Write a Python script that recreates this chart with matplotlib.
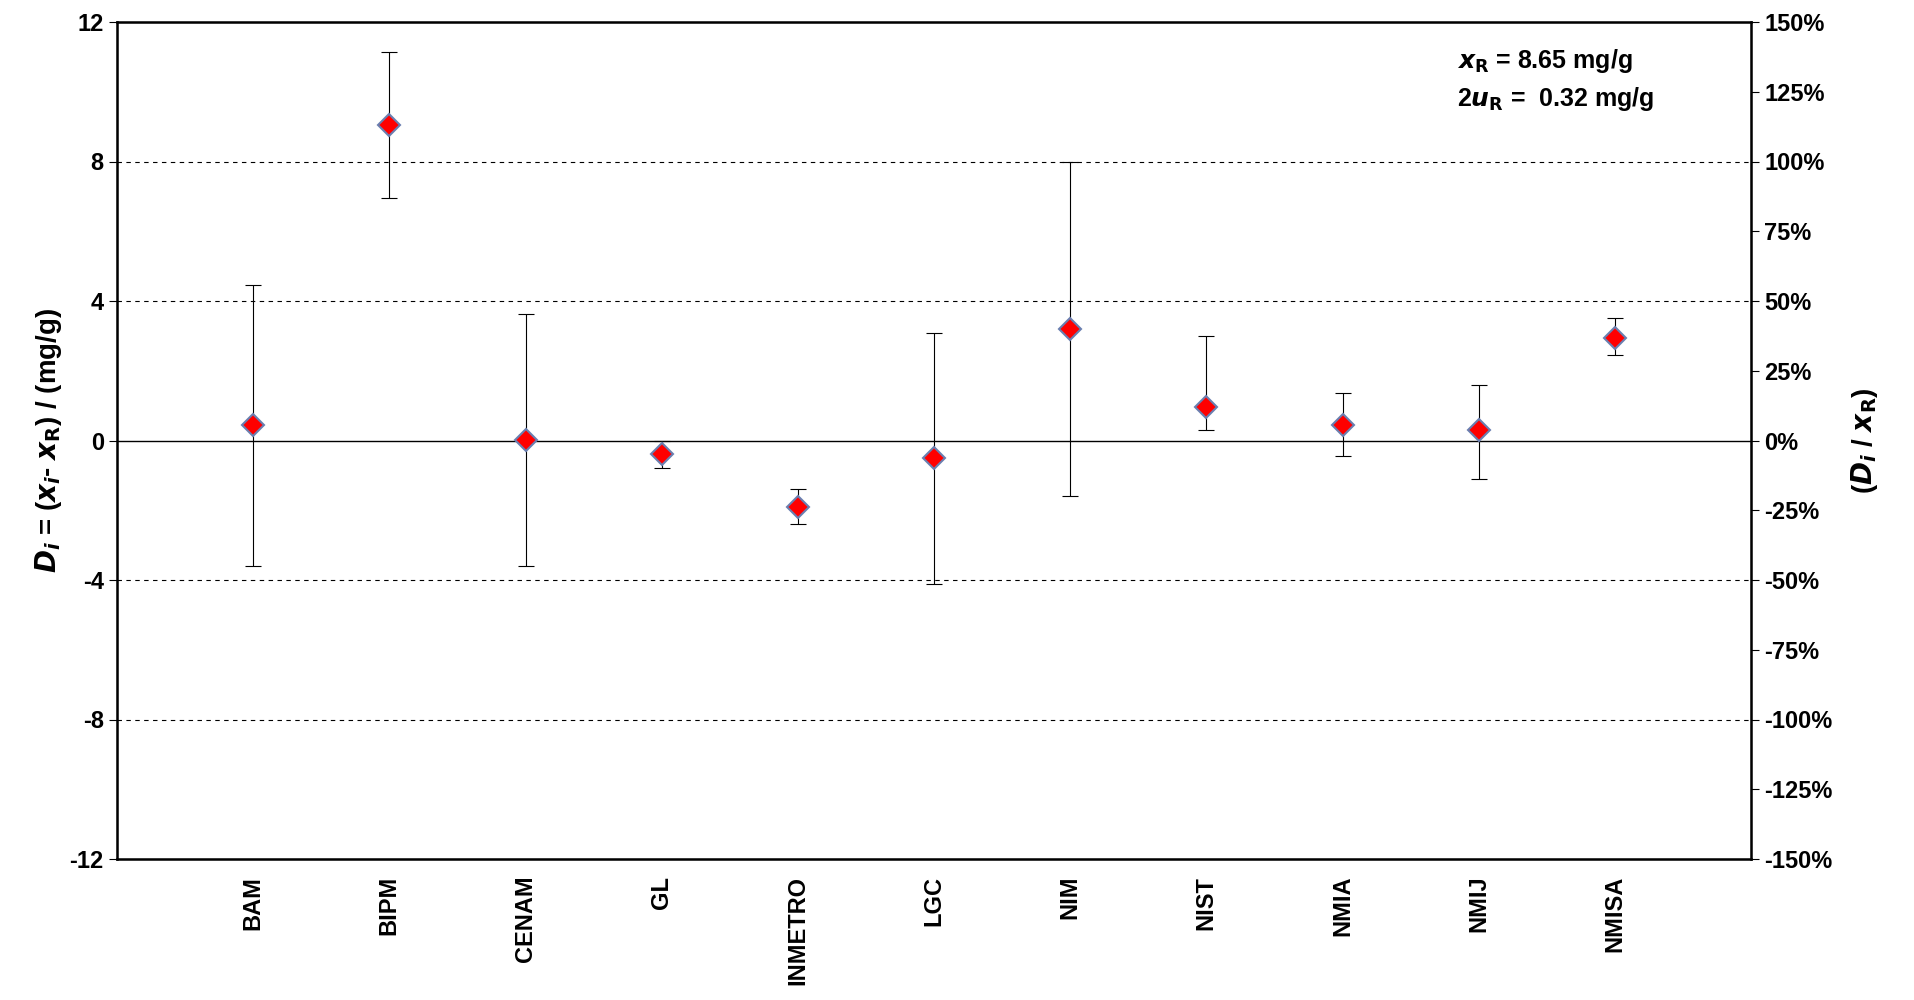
import numpy as np
import matplotlib.pyplot as plt

labs = ['BAM', 'BIPM', 'CENAM', 'GL', 'INMETRO', 'LGC', 'NIM', 'NIST', 'NMIA', 'NMIJ', 'NMISA']
di = [0.45, 9.05, 0.02, -0.4, -1.9, -0.5, 3.2, 0.95, 0.45, 0.3, 2.95]
err_lo = [4.05, 2.1, 3.62, 0.4, 0.5, 3.62, 4.8, 0.65, 0.9, 1.4, 0.5]
err_hi = [4.0, 2.1, 3.6, 0.4, 0.5, 3.58, 4.8, 2.05, 0.9, 1.3, 0.55]
xR = 8.65

plt.rcParams['font.family'] = ['Liberation Sans', 'DejaVu Sans']
plt.rcParams['font.weight'] = 'bold'
plt.rcParams['axes.unicode_minus'] = False
fig = plt.figure(figsize=(19.14, 10.0), dpi=100)
ax = fig.add_axes([117/1914, 1-859/1000, (1751-117)/1914, (859-22)/1000])
x = np.arange(len(labs))
ax.errorbar(x, di, yerr=[err_lo, err_hi], fmt='none', ecolor='black', elinewidth=0.8, capsize=6, capthick=0.8)
ax.plot(x, di, 'D', ms=11, mfc='red', mec='#6a7fb0', mew=1.5, zorder=5)
ax.axhline(0, color='black', lw=1)
for v in [-8, -4, 4, 8]:
    ax.axhline(v, color='black', lw=0.8, ls=(0, (4, 4)))
ax.set_xlim(-1, len(labs))
ax.set_ylim(-12, 12)
ax.set_yticks([-12, -8, -4, 0, 4, 8, 12])
ax.set_yticklabels(['-12', '-8', '-4', '0', '4', '8', '12'], fontweight='bold')
ax.set_xticks(x)
ax.set_xticklabels(labs, rotation=90, fontsize=17, fontweight='bold')
ax.tick_params(axis='y', labelsize=17, direction='out', length=6)
ax.tick_params(axis='x', length=0, pad=12)
for s in ax.spines.values():
    s.set_linewidth(1.8)
ax.set_ylabel(r'$\boldsymbol{D_i}$ = ($\boldsymbol{x_i}$- $\boldsymbol{x}_{\mathbf{R}}$) / (mg/g)', fontsize=20, fontweight='bold')
ax2 = ax.twinx()
ax2.set_ylim(-150, 150)
ax2.set_yticks(np.arange(-150, 151, 25))
ax2.set_yticklabels([f'{v}%' for v in range(-150, 151, 25)], fontweight='bold')
ax2.tick_params(axis='y', labelsize=17, length=6)
ax2.set_ylabel(r'($\boldsymbol{D_i}$ / $\boldsymbol{x}_{\mathbf{R}}$)', fontsize=20, fontweight='bold', labelpad=12)
ax.text(0.82, 0.97, r'$\boldsymbol{x}_{\mathbf{R}}$ = 8.65 mg/g', transform=ax.transAxes, fontsize=18, fontweight='bold', va='top')
ax.text(0.82, 0.925, r'2$\boldsymbol{u}_{\mathbf{R}}$ =  0.32 mg/g', transform=ax.transAxes, fontsize=18, fontweight='bold', va='top')
fig.savefig('out.png')
